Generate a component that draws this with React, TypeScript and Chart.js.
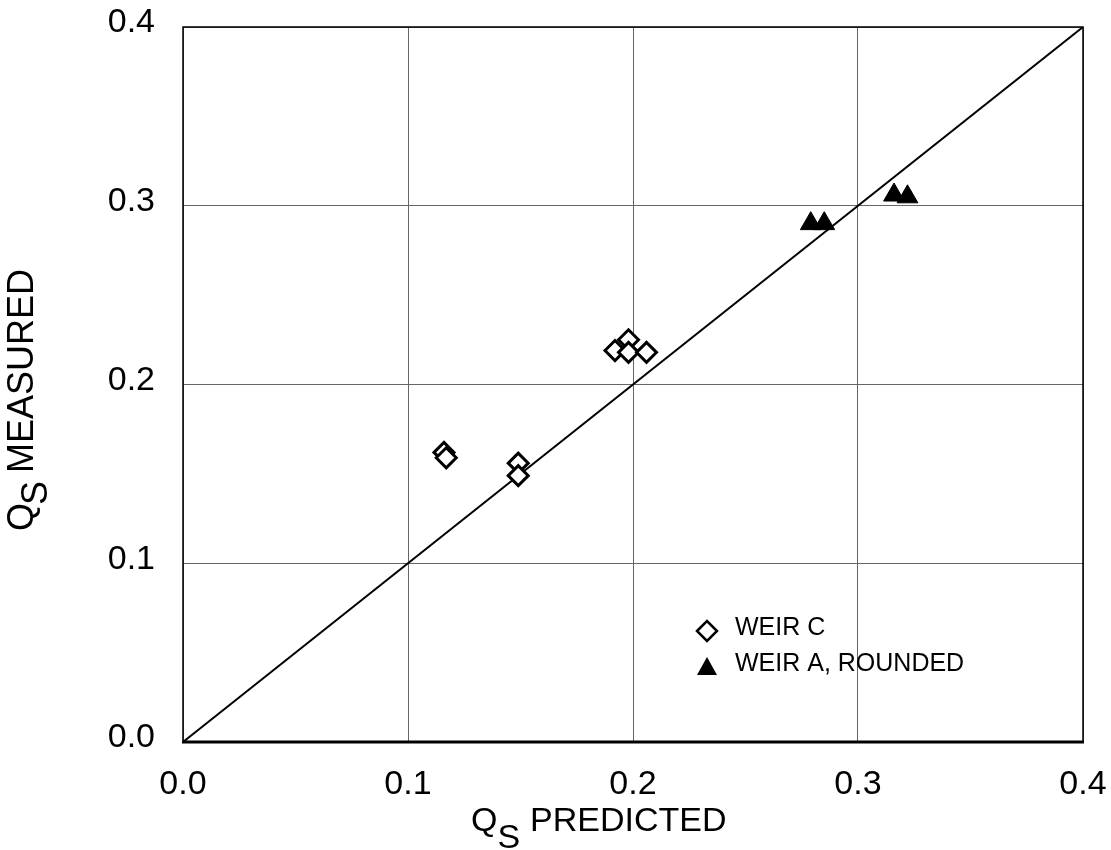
import React, { useEffect, useRef } from "react";
import { Chart, registerables } from "chart.js";

Chart.register(...registerables);

// ---- Data ----
const weirCPredicted = [0.116, 0.117, 0.149, 0.149, 0.192, 0.198, 0.198, 0.206];
const weirCMeasured = [0.162, 0.159, 0.156, 0.149, 0.219, 0.225, 0.218, 0.218];
const weirAPredicted = [0.279, 0.285, 0.316, 0.322];
const weirAMeasured = [0.29, 0.29, 0.306, 0.305];
const equalityX = [0, 0.4];
const equalityY = [0, 0.4];
const axisMin = 0;
const axisMax = 0.4;
const axisStep = 0.1;
const legendLabels = ["WEIR C", "WEIR A, ROUNDED"];
const xTitle = { main: "Q", sub: "S", rest: "PREDICTED" };
const yTitle = { main: "Q", sub: "S", rest: "MEASURED" };

const FONT = "'Liberation Sans', Arial, sans-serif";

const decorPlugin = {
  id: "decor",
  afterDraw(chart: any) {
    const ctx = chart.ctx as CanvasRenderingContext2D;
    const a = chart.chartArea;
    ctx.save();
    // frame
    ctx.strokeStyle = "#000";
    ctx.lineWidth = 1.5;
    ctx.beginPath();
    ctx.moveTo(a.left, a.bottom);
    ctx.lineTo(a.left, a.top);
    ctx.lineTo(a.right, a.top);
    ctx.lineTo(a.right, a.bottom);
    ctx.stroke();
    ctx.lineWidth = 3;
    ctx.beginPath();
    ctx.moveTo(a.left - 1, a.bottom);
    ctx.lineTo(a.right + 1, a.bottom);
    ctx.stroke();

    // axis titles with subscripts
    ctx.fillStyle = "#000";
    ctx.textBaseline = "alphabetic";
    ctx.textAlign = "left";
    ctx.font = `34px ${FONT}`;
    const wQ = ctx.measureText(xTitle.main).width;
    const wS = ctx.measureText(xTitle.sub).width;
    const x0 = 471;
    const xb = 831;
    ctx.fillText(xTitle.main, x0, xb);
    ctx.fillText(xTitle.sub, x0 + wQ, xb + 17);
    ctx.fillText(xTitle.rest, x0 + wQ + wS + 10, xb);

    ctx.save();
    ctx.translate(33, 531);
    ctx.rotate(-Math.PI / 2);
    ctx.font = `36px ${FONT}`;
    const yQ = ctx.measureText(yTitle.main).width;
    const yS = ctx.measureText(yTitle.sub).width;
    ctx.fillText(yTitle.main, 0, 0);
    ctx.fillText(yTitle.sub, yQ - 2, 14);
    ctx.fillText(yTitle.rest, yQ + yS + 6, 0);
    ctx.restore();

    // legend
    ctx.font = `25px ${FONT}`;
    ctx.textBaseline = "middle";
    const lx = 707;
    const tx = 735;
    const r1 = 628;
    const r2 = 664;
    // diamond
    ctx.beginPath();
    ctx.moveTo(lx - 10, r1 + 3);
    ctx.lineTo(lx, r1 - 7);
    ctx.lineTo(lx + 10, r1 + 3);
    ctx.lineTo(lx, r1 + 13);
    ctx.closePath();
    ctx.fillStyle = "#fff";
    ctx.fill();
    ctx.lineWidth = 2.5;
    ctx.strokeStyle = "#000";
    ctx.stroke();
    // triangle
    ctx.beginPath();
    ctx.moveTo(lx, r2 - 7);
    ctx.lineTo(lx + 10, r2 + 11);
    ctx.lineTo(lx - 10, r2 + 11);
    ctx.closePath();
    ctx.fillStyle = "#000";
    ctx.fill();
    ctx.fillText(legendLabels[0], tx, r1);
    ctx.fillText(legendLabels[1], tx, r2);
    ctx.restore();
  },
};

export default function App() {
  const ref = useRef<HTMLCanvasElement | null>(null);
  useEffect(() => {
    if (!ref.current) return;
    const chart = new Chart(ref.current, {
      type: "scatter",
      data: {
        datasets: [
          {
            label: legendLabels[1],
            data: weirAPredicted.map((x, i) => ({ x, y: weirAMeasured[i] })),
            pointStyle: "triangle",
            pointRadius: 12,
            backgroundColor: "#000",
            borderColor: "#000",
            borderWidth: 1,
          },
          {
            label: legendLabels[0],
            data: weirCPredicted.map((x, i) => ({ x, y: weirCMeasured[i] })),
            pointStyle: "rectRot",
            pointRadius: 10,
            backgroundColor: "#fff",
            borderColor: "#000",
            borderWidth: 3,
          },
          {
            type: "line",
            label: "1:1",
            data: equalityX.map((x, i) => ({ x, y: equalityY[i] })),
            borderColor: "#000",
            borderWidth: 2,
            pointRadius: 0,
            showLine: true,
            fill: false,
          } as any,
        ],
      },
      options: {
        responsive: false,
        animation: false,
        layout: { padding: { left: 0, top: 27, right: 28, bottom: 0 } },
        plugins: { legend: { display: false }, tooltip: { enabled: false } },
        scales: {
          x: {
            type: "linear",
            min: axisMin,
            max: axisMax,
            afterFit: (s: any) => {
              s.height = 108;
              s.paddingLeft = 0;
              s.paddingRight = 0;
            },
            grid: { color: "#666", lineWidth: 1, drawTicks: false },
            border: { display: false },
            ticks: {
              stepSize: axisStep,
              padding: 22,
              color: "#000",
              font: { family: FONT, size: 34 },
              callback: (v: any) => Number(v).toFixed(1),
            },
          },
          y: {
            type: "linear",
            min: axisMin,
            max: axisMax,
            afterFit: (s: any) => {
              s.width = 183;
              s.paddingTop = 0;
              s.paddingBottom = 0;
            },
            grid: { color: "#666", lineWidth: 1, drawTicks: false },
            border: { display: false },
            ticks: {
              stepSize: axisStep,
              padding: 28,
              labelOffset: -4,
              color: "#000",
              font: { family: FONT, size: 34 },
              callback: (v: any) => Number(v).toFixed(1),
            },
          },
        },
      },
      plugins: [decorPlugin],
    });
    return () => chart.destroy();
  }, []);
  return (
    <div style={{ position: "absolute", left: 0, top: 0, width: 1111, height: 850, background: "#fff" }}>
      <canvas ref={ref} width={1111} height={850} />
    </div>
  );
}
